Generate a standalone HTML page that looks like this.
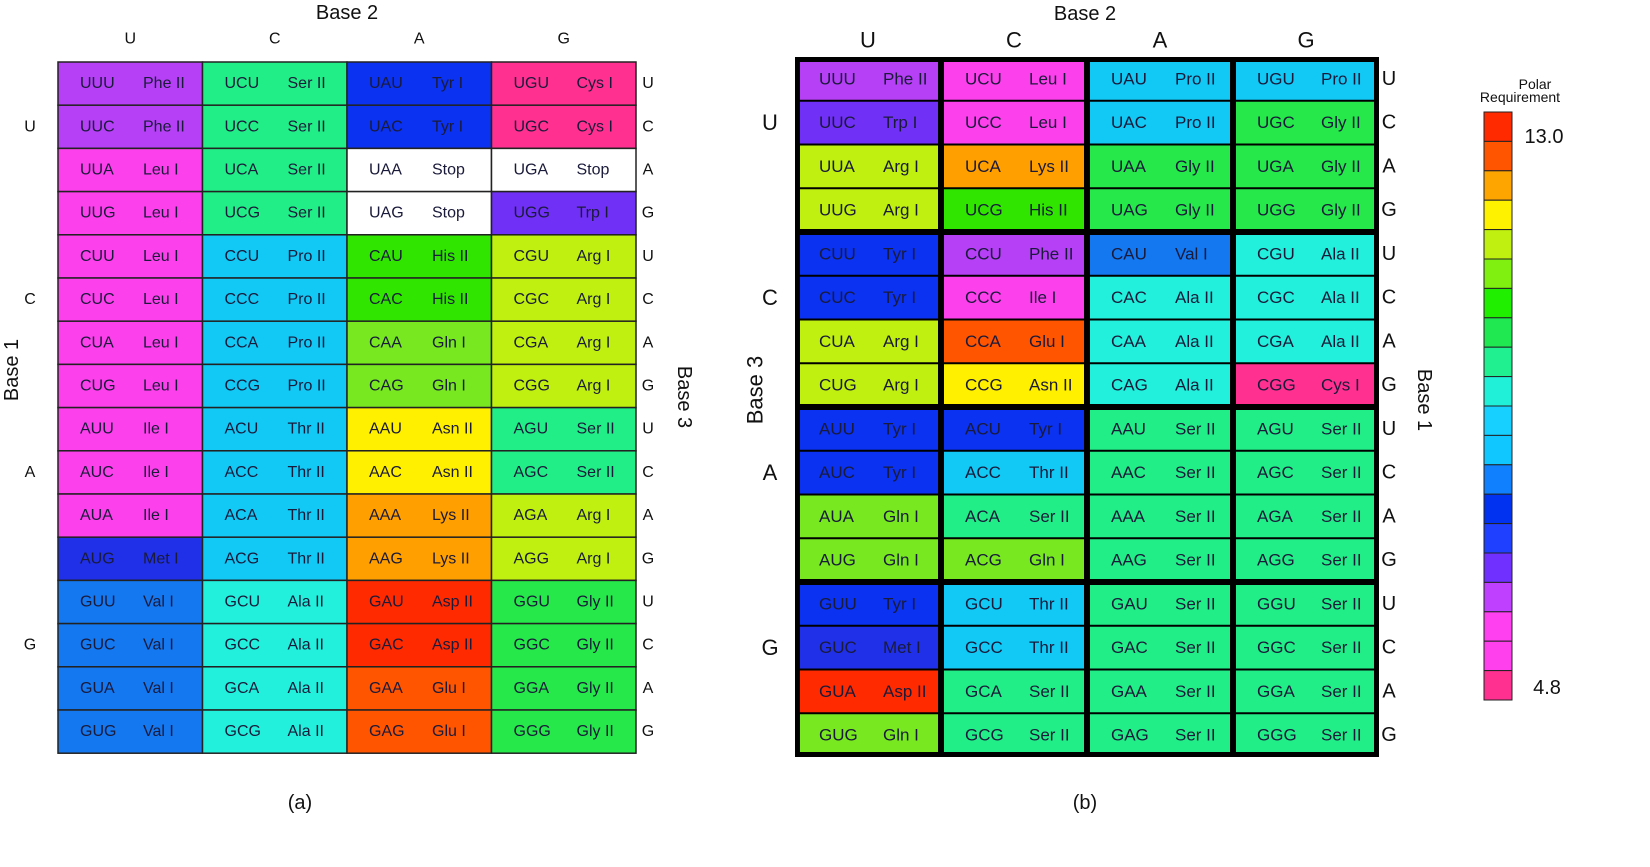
<!DOCTYPE html>
<html><head><meta charset="utf-8"><style>
html,body{margin:0;padding:0;background:#fff;}
svg{display:block;font-family:"Liberation Sans",sans-serif;}
</style></head><body>
<svg id="chart" width="1650" height="867" viewBox="0 0 1650 867" xmlns="http://www.w3.org/2000/svg"></svg>
<script>
const bases = ["U","C","A","G"];
const aminoA = [
"Phe II","Ser II","Tyr I","Cys I",
"Phe II","Ser II","Tyr I","Cys I",
"Leu I","Ser II","Stop","Stop",
"Leu I","Ser II","Stop","Trp I",
"Leu I","Pro II","His II","Arg I",
"Leu I","Pro II","His II","Arg I",
"Leu I","Pro II","Gln I","Arg I",
"Leu I","Pro II","Gln I","Arg I",
"Ile I","Thr II","Asn II","Ser II",
"Ile I","Thr II","Asn II","Ser II",
"Ile I","Thr II","Lys II","Arg I",
"Met I","Thr II","Lys II","Arg I",
"Val I","Ala II","Asp II","Gly II",
"Val I","Ala II","Asp II","Gly II",
"Val I","Ala II","Glu I","Gly II",
"Val I","Ala II","Glu I","Gly II"];
const aminoB = [
"Phe II","Leu I","Pro II","Pro II",
"Trp I","Leu I","Pro II","Gly II",
"Arg I","Lys II","Gly II","Gly II",
"Arg I","His II","Gly II","Gly II",
"Tyr I","Phe II","Val I","Ala II",
"Tyr I","Ile I","Ala II","Ala II",
"Arg I","Glu I","Ala II","Ala II",
"Arg I","Asn II","Ala II","Cys I",
"Tyr I","Tyr I","Ser II","Ser II",
"Tyr I","Thr II","Ser II","Ser II",
"Gln I","Ser II","Ser II","Ser II",
"Gln I","Gln I","Ser II","Ser II",
"Tyr I","Thr II","Ser II","Ser II",
"Met I","Thr II","Ser II","Ser II",
"Asp II","Ser II","Ser II","Ser II",
"Gln I","Ser II","Ser II","Ser II"];
const aaNames = ["Phe II","Leu I","Ile I","Met I","Val I","Ser II","Pro II","Thr II","Ala II","Tyr I","His II","Gln I","Asn II","Lys II","Asp II","Glu I","Cys I","Trp I","Arg I","Gly II","Stop"];
const aaColors = ["#b540f5","#fc40ec","#fc40ec","#2030e8","#1478f0","#22ee88","#12c8f5","#12c8f5","#22f0dc","#0a32f0","#30e600","#78e820","#fff000","#ffa000","#ff2a00","#ff5500","#ff3090","#7030f5","#c0f010","#26e84a","#ffffff"];
const scaleColors = ["#ff2a00","#ff5500","#ffa500","#fff200","#c0f010","#80f010","#20f000","#20e850","#20f090","#20f0d8","#18d0ff","#10c8ff","#1080ff","#0032f0","#2040ff","#7030ff","#c040ff","#ff40f0","#ff40ec","#ff3090"];
const scaleLabels = ["13.0","4.8"];

const NS="http://www.w3.org/2000/svg";
const svg=document.getElementById('chart');
function mk(tag,attrs,parent){const e=document.createElementNS(NS,tag);for(const k in attrs)e.setAttribute(k,attrs[k]);(parent||svg).appendChild(e);return e;}
function txt(s,x,y,size,extra){const t=mk('text',Object.assign({x:x,y:y,'font-size':size,fill:'#111','text-anchor':'middle','dominant-baseline':'central'},extra||{}));t.textContent=s;return t;}
function col(aa){return aaColors[aaNames.indexOf(aa)];}

// ---------- Panel (a) ----------
const ga=mk('g',{});


const ax0=58, ay0=62, aw=144.5, ah=43.2;
for(let r=0;r<16;r++){for(let c=0;c<4;c++){
  const aa=aminoA[r*4+c];
  const codon=bases[Math.floor(r/4)]+bases[c]+bases[r%4];
  const g=mk('g',{},ga);
  
  
  mk('rect',{x:ax0+c*aw,y:ay0+r*ah,width:aw,height:ah,fill:col(aa),stroke:'#222','stroke-width':1.5},g);
  txt(codon,ax0+c*aw+40,ay0+r*ah+ah/2,16,{}).remove();
  const t1=mk('text',{x:ax0+c*aw+22,y:ay0+r*ah+ah/2,'font-size':16,fill:'#1a1a3a','dominant-baseline':'central'},g);t1.textContent=codon;
  const t2=mk('text',{x:ax0+c*aw+85,y:ay0+r*ah+ah/2,'font-size':16,fill:'#1a1a3a','dominant-baseline':'central'},g);t2.textContent=aa;
}}
let t;
t=txt('Base 2',347,13,20);
for(let c=0;c<4;c++){t=txt(bases[c],ax0+c*aw+aw/2,39,16);}
for(let b=0;b<4;b++){t=txt(bases[b],30,ay0+(b*4+2)*ah-ah*0.5,16);}
for(let r=0;r<16;r++){t=txt(bases[r%4],648,ay0+r*ah+ah/2,16);}
t=txt('Base 1',12,370,20,{transform:'rotate(-90 12 370)'});
t=txt('Base 3',684,397,20,{transform:'rotate(90 684 397)'});
t=txt('(a)',300,803,20);

// ---------- Panel (b) ----------
const gb=mk('g',{});


const bx0=795, by0=57, bw=146, bh=43.75, BW=584, BH=700;
mk('rect',{x:bx0,y:by0,width:BW,height:BH,fill:'#000'},gb);
for(let r=0;r<16;r++){for(let c=0;c<4;c++){
  const aa=aminoB[r*4+c];
  const codon=bases[Math.floor(r/4)]+bases[c]+bases[r%4];
  const l=c==0?5:3, rr=c==3?5:3;
  const rt=r%4==0?(r==0?5:3):1, rb=r%4==3?(r==15?5:3):1;
  const x=bx0+c*bw+l, y=by0+r*bh+rt, w=bw-l-rr, h=bh-rt-rb;
  const g=mk('g',{},gb);
  
  
  mk('rect',{x:x,y:y,width:w,height:h,fill:col(aa)},g);
  const t1=mk('text',{x:bx0+c*bw+24,y:by0+r*bh+bh/2,'font-size':17,fill:'#1a1a3a','dominant-baseline':'central'},g);t1.textContent=codon;
  const t2=mk('text',{x:bx0+c*bw+88,y:by0+r*bh+bh/2,'font-size':17,fill:'#1a1a3a','dominant-baseline':'central'},g);t2.textContent=aa;
}}
t=txt('Base 2',1085,14,20);
for(let c=0;c<4;c++){t=txt(bases[c],bx0+c*bw+bw/2,40,22);}
for(let b=0;b<4;b++){t=txt(bases[b],770,by0+(b*4+2)*bh-bh*0.5,22);}
for(let r=0;r<16;r++){t=txt(bases[r%4],1389,by0+r*bh+bh/2,20);}
t=txt('Base 3',755,390,22,{transform:'rotate(-90 755 390)'});
t=txt('Base 1',1424,400,20,{transform:'rotate(90 1424 400)'});
t=txt('(b)',1085,803,20);

// ---------- Colour scale ----------
const gs=mk('g',{});


const sx=1484, sy=112, sw=28, sh=(700-112)/scaleColors.length;
scaleColors.forEach((c,i)=>{
  const r=mk('rect',{x:sx,y:sy+i*sh,width:sw,height:sh,fill:c,stroke:'#222','stroke-width':1},gs);
  
  
});
t=txt('Polar',1535,84,14);
t=txt('Requirement',1520,97,14);
t=txt(scaleLabels[0],1544,137,20);
t=txt(scaleLabels[1],1547,688,20);
</script>
</body></html>
